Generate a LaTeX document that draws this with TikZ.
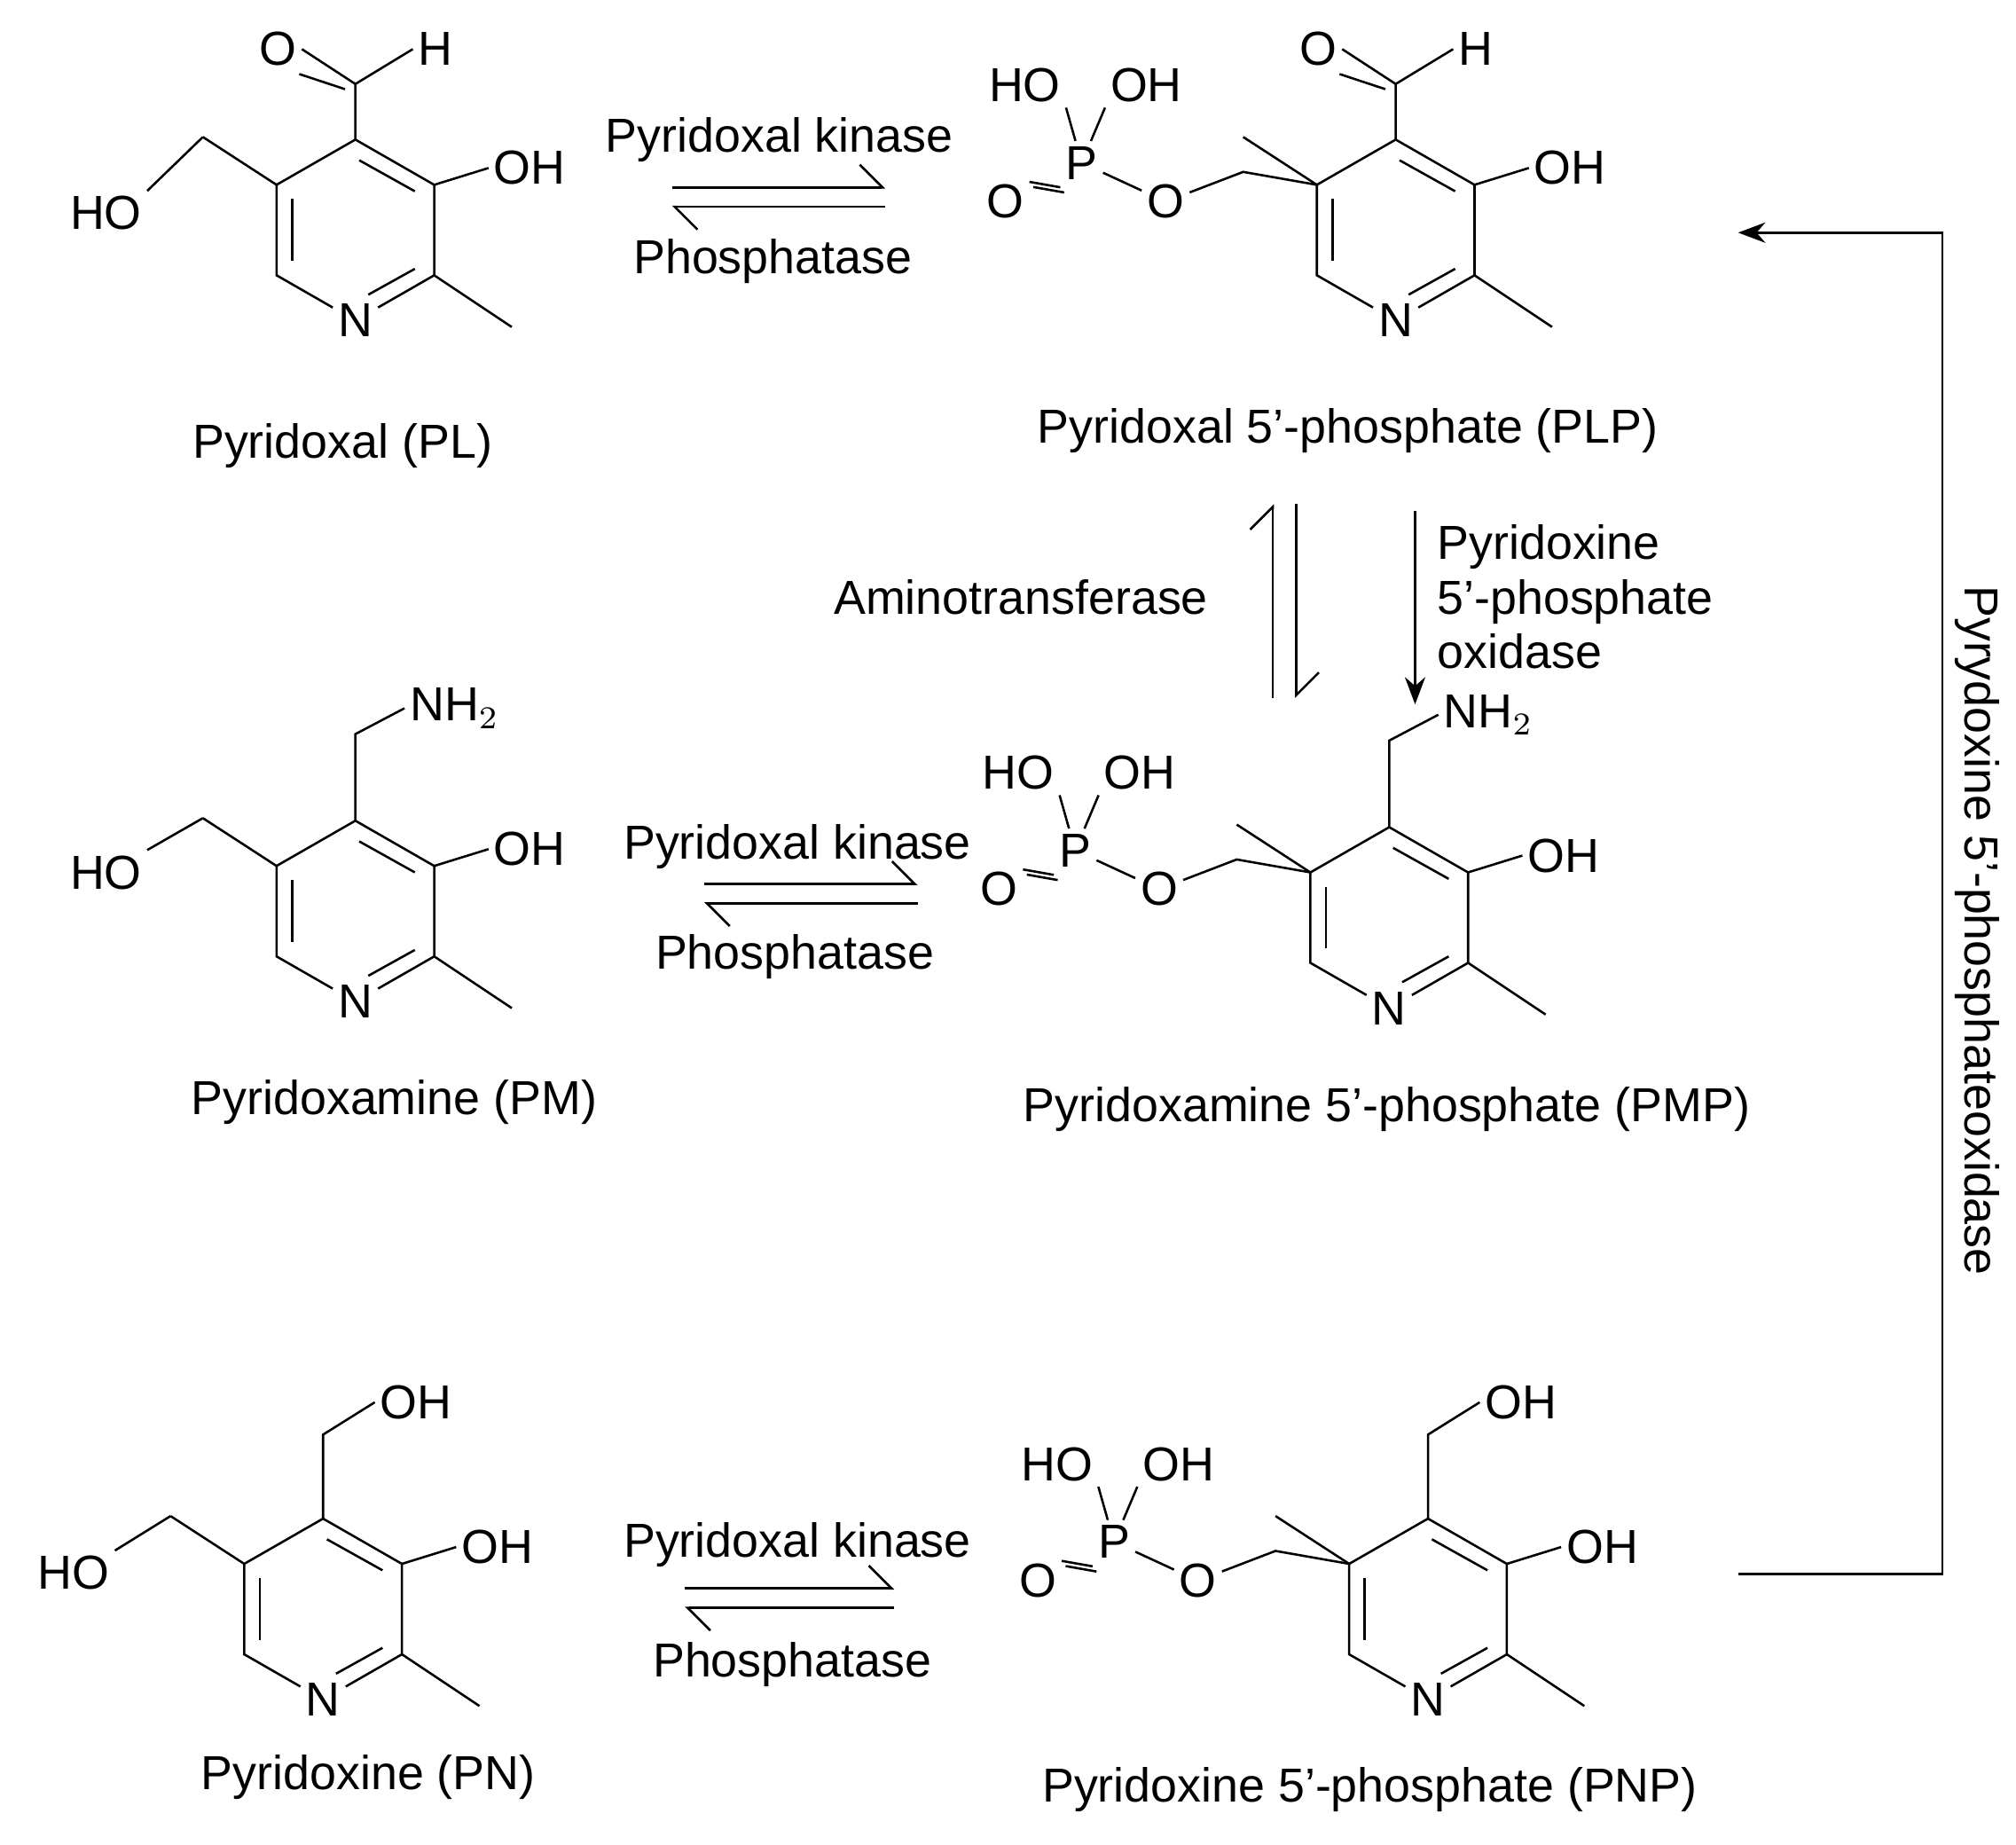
\documentclass[tikz,border=0pt]{standalone}
\usepackage{fontspec}
\setmainfont{Liberation Sans}
\usetikzlibrary{arrows.meta,calc}

\tikzset{
  atom/.style={inner sep=1pt, font=\fontsize{10.5}{12}\selectfont},
  lbl/.style={inner sep=1pt, font=\fontsize{10.5}{12}\selectfont, align=left},
  bond/.style={line width=0.5pt},
  harp/.style={line width=0.5pt, -{Straight Barb[left, length=5pt]}},
  full/.style={line width=0.5pt, -{Stealth[length=6pt]}}
}

% pyridine ring, names prefixed with #1
\newcommand{\pyring}[1]{%
  \coordinate (#1T) at (0,-70);
  \coordinate (#1UR) at (61,-35);
  \coordinate (#1LR) at (61,35);
  \coordinate (#1LL) at (-61,35);
  \coordinate (#1UL) at (-61,-35);
  \node[atom] (#1N) at (0,70) {N};
  \draw[bond] (#1N) -- (#1LL) -- (#1UL) -- (#1T) -- (#1UR) -- (#1LR) -- (#1N);
  \draw[bond] (3,-54) -- (46,-30);
  \draw[bond] (-49,-24) -- (-49,24);
  \draw[bond] (46,30) -- (10,50);
  % methyl, OH and CH2OH
  \coordinate (#1Me) at (121,75);
  \draw[bond] (#1LR) -- (#1Me);
  \node[atom, anchor=west] (#1OH) at (103,-48) {OH};
  \draw[bond] (#1UR) -- (#1OH.west);
  \coordinate (#1C5) at (-118,-72);
  \draw[bond] (#1UL) -- (#1C5);
}

% phosphate ester on C5'
\newcommand{\phos}[1]{%
  \coordinate (#1C5) at (-118,-45);
  \node[atom] (#1O) at (-178,-22) {O};
  \node[atom] (#1P) at (-243,-52) {P};
  \node[atom] (#1Od) at (-302,-22) {O};
  \node[atom] (#1HO) at (-287,-112) {HO};
  \node[atom] (#1PO) at (-193,-112) {OH};
  \draw[bond] (#1UL) -- (#1C5) -- (#1O);
  \draw[bond] (#1O) -- (#1P);
  \draw[bond] (#1P) -- (#1HO.south east);
  \draw[bond] (#1P) -- (#1PO.south west);
  \draw[bond] ($(#1P.south west)+(0,2)$) -- ($(#1Od.north east)+(0,2)$);
  \draw[bond] ($(#1P.south west)+(3,6)$) -- ($(#1Od.north east)+(3,6)$);
}

\begin{document}
\begin{tikzpicture}[x=0.01cm, y=-0.01cm]
  \useasboundingbox (0,0) rectangle (1560,1427);

  % Pyridoxal (PL)
  \begin{scope}[shift={(275,178)}]
    \pyring{pl}
    \node[atom] (plHO) at (-193,-13) {HO};
    \draw[bond] (plC5) -- (plHO.north east);
    \coordinate (plC4) at (0,-113);
    \node[atom] (plOx) at (-60,-140) {O};
    \node[atom] (plH) at (62,-140) {H};
    \draw[bond] (plT) -- (plC4) -- (plH.west);
    \draw[bond] (plC4) -- (plOx.east);
    \draw[bond] ($(plC4)+(-8,4)$) -- ($(plOx.south east)+(-2,2)$);
  \end{scope}

  % Pyridoxal 5'-phosphate (PLP)
  \begin{scope}[shift={(1080,178)}]
    \pyring{plp}
    \phos{plp}
    \coordinate (plpC4) at (0,-113);
    \node[atom] (plpOx) at (-60,-140) {O};
    \node[atom] (plpH) at (62,-140) {H};
    \draw[bond] (plpT) -- (plpC4) -- (plpH.west);
    \draw[bond] (plpC4) -- (plpOx.east);
    \draw[bond] ($(plpC4)+(-8,4)$) -- ($(plpOx.south east)+(-2,2)$);
  \end{scope}

  % Pyridoxamine (PM)
  \begin{scope}[shift={(275,705)}]
    \pyring{pm}
    \node[atom] (pmHO) at (-193,-30) {HO};
    \draw[bond] (pmC5) -- (pmHO.north east);
    \coordinate (pmC4) at (0,-137);
    \node[atom, anchor=west] (pmNH) at (38,-157) {NH$_2$};
    \draw[bond] (pmT) -- (pmC4) -- (pmNH.west);
  \end{scope}

  % Pyridoxamine 5'-phosphate (PMP)
  \begin{scope}[shift={(1075,710)}]
    \pyring{pmp}
    \phos{pmp}
    \coordinate (pmpC4) at (0,-137);
    \node[atom, anchor=west] (pmpNH) at (38,-157) {NH$_2$};
    \draw[bond] (pmpT) -- (pmpC4) -- (pmpNH.west);
  \end{scope}

  % Pyridoxine (PN)
  \begin{scope}[shift={(250,1245)}]
    \pyring{pn}
    \node[atom] (pnHO) at (-193,-28) {HO};
    \draw[bond] (pnC5) -- (pnHO.north east);
    \coordinate (pnC4) at (0,-135);
    \node[atom, anchor=west] (pnOH2) at (40,-160) {OH};
    \draw[bond] (pnT) -- (pnC4) -- (pnOH2.west);
  \end{scope}

  % Pyridoxine 5'-phosphate (PNP)
  \begin{scope}[shift={(1105,1245)}]
    \pyring{pnp}
    \phos{pnp}
    \coordinate (pnpC4) at (0,-135);
    \node[atom, anchor=west] (pnpOH2) at (40,-160) {OH};
    \draw[bond] (pnpT) -- (pnpC4) -- (pnpOH2.west);
  \end{scope}

  % compound names
  \node[lbl] (nPL) at (265,345) {Pyridoxal (PL)};
  \node[lbl] (nPLP) at (1043,333) {Pyridoxal 5'-phosphate (PLP)};
  \node[lbl] (nPM) at (305,853) {Pyridoxamine (PM)};
  \node[lbl] (nPMP) at (1073,858) {Pyridoxamine 5'-phosphate (PMP)};
  \node[lbl] (nPN) at (285,1375) {Pyridoxine (PN)};
  \node[lbl] (nPNP) at (1060,1385) {Pyridoxine 5'-phosphate (PNP)};

  % PL <=> PLP
  \node[lbl] (k1) at (603,108) {Pyridoxal kinase};
  \node[lbl] (p1) at (598,202) {Phosphatase};
  \coordinate (a1l) at (520,145); \coordinate (a1r) at (685,145);
  \coordinate (b1l) at (520,160); \coordinate (b1r) at (685,160);
  \draw[harp] (a1l) -- (a1r);
  \draw[harp] (b1r) -- (b1l);

  % PM <=> PMP
  \node[lbl] (k2) at (617,655) {Pyridoxal kinase};
  \node[lbl] (p2) at (615,740) {Phosphatase};
  \coordinate (a2l) at (545,684); \coordinate (a2r) at (710,684);
  \coordinate (b2l) at (545,699); \coordinate (b2r) at (710,699);
  \draw[harp] (a2l) -- (a2r);
  \draw[harp] (b2r) -- (b2l);

  % PN <=> PNP
  \node[lbl] (k3) at (617,1195) {Pyridoxal kinase};
  \node[lbl] (p3) at (613,1288) {Phosphatase};
  \coordinate (a3l) at (530,1229); \coordinate (a3r) at (692,1229);
  \coordinate (b3l) at (530,1244); \coordinate (b3r) at (692,1244);
  \draw[harp] (a3l) -- (a3r);
  \draw[harp] (b3r) -- (b3l);

  % PLP <=> PMP
  \node[lbl] (at) at (790,462) {Aminotransferase};
  \coordinate (v1t) at (985,390); \coordinate (v1b) at (985,540);
  \coordinate (v2t) at (1003,390); \coordinate (v2b) at (1003,540);
  \draw[harp] (v1b) -- (v1t);
  \draw[harp] (v2t) -- (v2b);

  % PMP -> PLP oxidase
  \node[lbl, anchor=west] (ox1) at (1108,462) {Pyridoxine\\5'-phosphate\\oxidase};
  \coordinate (v3t) at (1095,395); \coordinate (v3b) at (1095,545);
  \draw[full] (v3t) -- (v3b);

  % PNP -> PLP
  \coordinate (r1) at (1345,1218);
  \coordinate (r2) at (1503,1218);
  \coordinate (r3) at (1503,180);
  \coordinate (r4) at (1345,180);
  \draw[full] (r1) -- (r2) -- (r3) -- (r4);
  \node[lbl, rotate=-90] (ox2) at (1530,720) {Pyrydoxine 5'-phosphateoxidase};
\end{tikzpicture}
\end{document}
